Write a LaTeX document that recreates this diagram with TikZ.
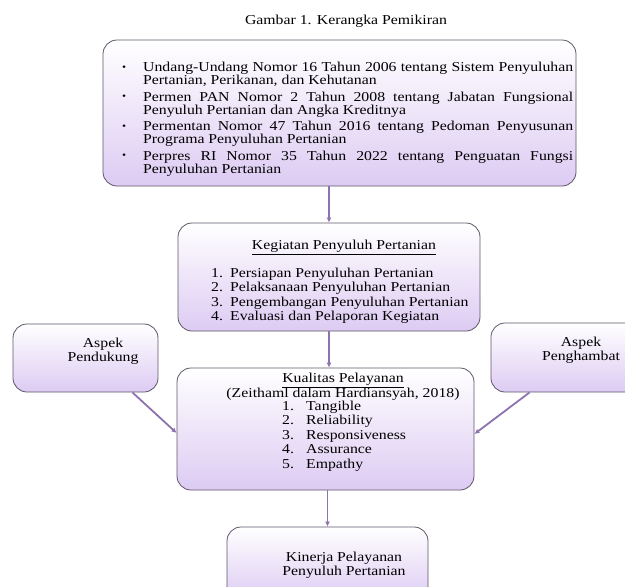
\documentclass[tikz,border=0pt]{standalone}
\usepackage{fontspec}
\setmainfont{Liberation Serif}[FakeStretch=1.16]
\usetikzlibrary{arrows.meta}
\definecolor{garis}{RGB}{95,85,105}
\definecolor{ungu}{RGB}{221,203,243}
\definecolor{panahungu}{RGB}{140,115,175}
\newcommand{\butir}[1]{\hangindent=21pt\hangafter=1\noindent\makebox[21pt][l]{\raisebox{1.5pt}{\fontsize{10}{10}\selectfont\textbullet}}#1\par}
\tikzset{
  kotak/.style={draw=garis, line width=0.8pt, rounded corners=14pt, top color=white, bottom color=ungu, inner sep=0pt},
  panah/.style={draw=panahungu, line width=1.8pt, -{Latex[length=5pt,width=5pt]}},
  teks/.style={inner sep=0pt, font=\fontsize{13.6}{14.3}\selectfont},
}
\begin{document}
\begin{tikzpicture}[x=1pt,y=-1pt]
\useasboundingbox (0,0) rectangle (625,587);
\node[teks, anchor=base] (judul) at (346,24.5) {Gambar 1. Kerangka Pemikiran};
% kotak
\node[kotak, minimum width=473pt, minimum height=146pt] (dasar) at (339.5,113) {};
\node[kotak, minimum width=302pt, minimum height=108pt] (kegiatan) at (329,277) {};
\node[kotak, minimum width=297pt, minimum height=122pt] (kualitas) at (325.5,429) {};
\node[kotak, minimum width=145pt, minimum height=68pt] (pendukung) at (85.5,358) {};
\node[kotak, minimum width=154pt, minimum height=69pt] (penghambat) at (568,357.5) {};
\node[kotak, minimum width=201pt, minimum height=73pt] (kinerja) at (327.5,563.5) {};
% isi (anchor base = baris terakhir)
\node[teks, anchor=base west, text width=451pt, align=justify, font=\fontsize{13.6}{13}\selectfont] (dasarisi) at (122,71.5) {%
\setlength{\parskip}{3.5pt}\hyphenpenalty=10000\tolerance=9999
\butir{Undang-Undang Nomor 16 Tahun 2006 tentang Sistem Penyuluhan\linebreak Pertanian, Perikanan, dan Kehutanan}
\butir{Permen PAN Nomor 2 Tahun 2008 tentang Jabatan Fungsional\linebreak Penyuluh Pertanian dan Angka Kreditnya}
\butir{Permentan Nomor 47 Tahun 2016 tentang Pedoman Penyusunan\linebreak Programa Penyuluhan Pertanian}
\butir{Perpres RI Nomor 35 Tahun 2022 tentang Penguatan Fungsi\linebreak Penyuluhan Pertanian}};
\node[teks, anchor=base] (kegiatanjudul) at (344,249.5) {\underline{Kegiatan Penyuluh Pertanian}};
\node[teks, anchor=base west, align=left] (kegiatanisi) at (211,320.4) {\makebox[19pt][l]{1.}Persiapan Penyuluhan Pertanian\\
\makebox[19pt][l]{2.}Pelaksanaan Penyuluhan Pertanian\\
\makebox[19pt][l]{3.}Pengembangan Penyuluhan Pertanian\\
\makebox[19pt][l]{4.}Evaluasi dan Pelaporan Kegiatan};
\node[teks, anchor=base] (kualitasjudul) at (343,382.5) {\underline{Kualitas Pelayanan}};
\node[teks, anchor=base] (kualitassumber) at (343,397.5) {(Zeithaml dalam Hardiansyah, 2018)};
\node[teks, anchor=base west, align=left, font=\fontsize{13.6}{14.4}\selectfont] (kualitasisi) at (282,468.1) {\makebox[24pt][l]{1.}Tangible\\
\makebox[24pt][l]{2.}Reliability\\
\makebox[24pt][l]{3.}Responsiveness\\
\makebox[24pt][l]{4.}Assurance\\
\makebox[24pt][l]{5.}Empathy};
\node[teks, anchor=base, align=center] (pendukungisi) at (103,361.8) {Aspek\\Pendukung};
\node[teks, anchor=base, align=center] (penghambatisi) at (581,360.8) {Aspek\\Penghambat};
\node[teks, anchor=base, align=center, font=\fontsize{13.6}{13.5}\selectfont] (kinerjaisi) at (344,575) {Kinerja Pelayanan\\Penyuluh Pertanian};
% panah
\draw[panah] (dasar.south -| kegiatan.north) -- (kegiatan.north);
\draw[panah] (kegiatan.south) -- (kegiatan.south |- kualitas.north);
\draw[panah] (kualitas.south -| kinerja.north) -- (kinerja.north);
\draw[panah] ([xshift=-26pt]pendukung.south east) -- ([yshift=-4pt]kualitas.west);
\draw[panah] ([xshift=39pt]penghambat.south west) -- ([yshift=-5pt]kualitas.east);
\end{tikzpicture}
\end{document}
